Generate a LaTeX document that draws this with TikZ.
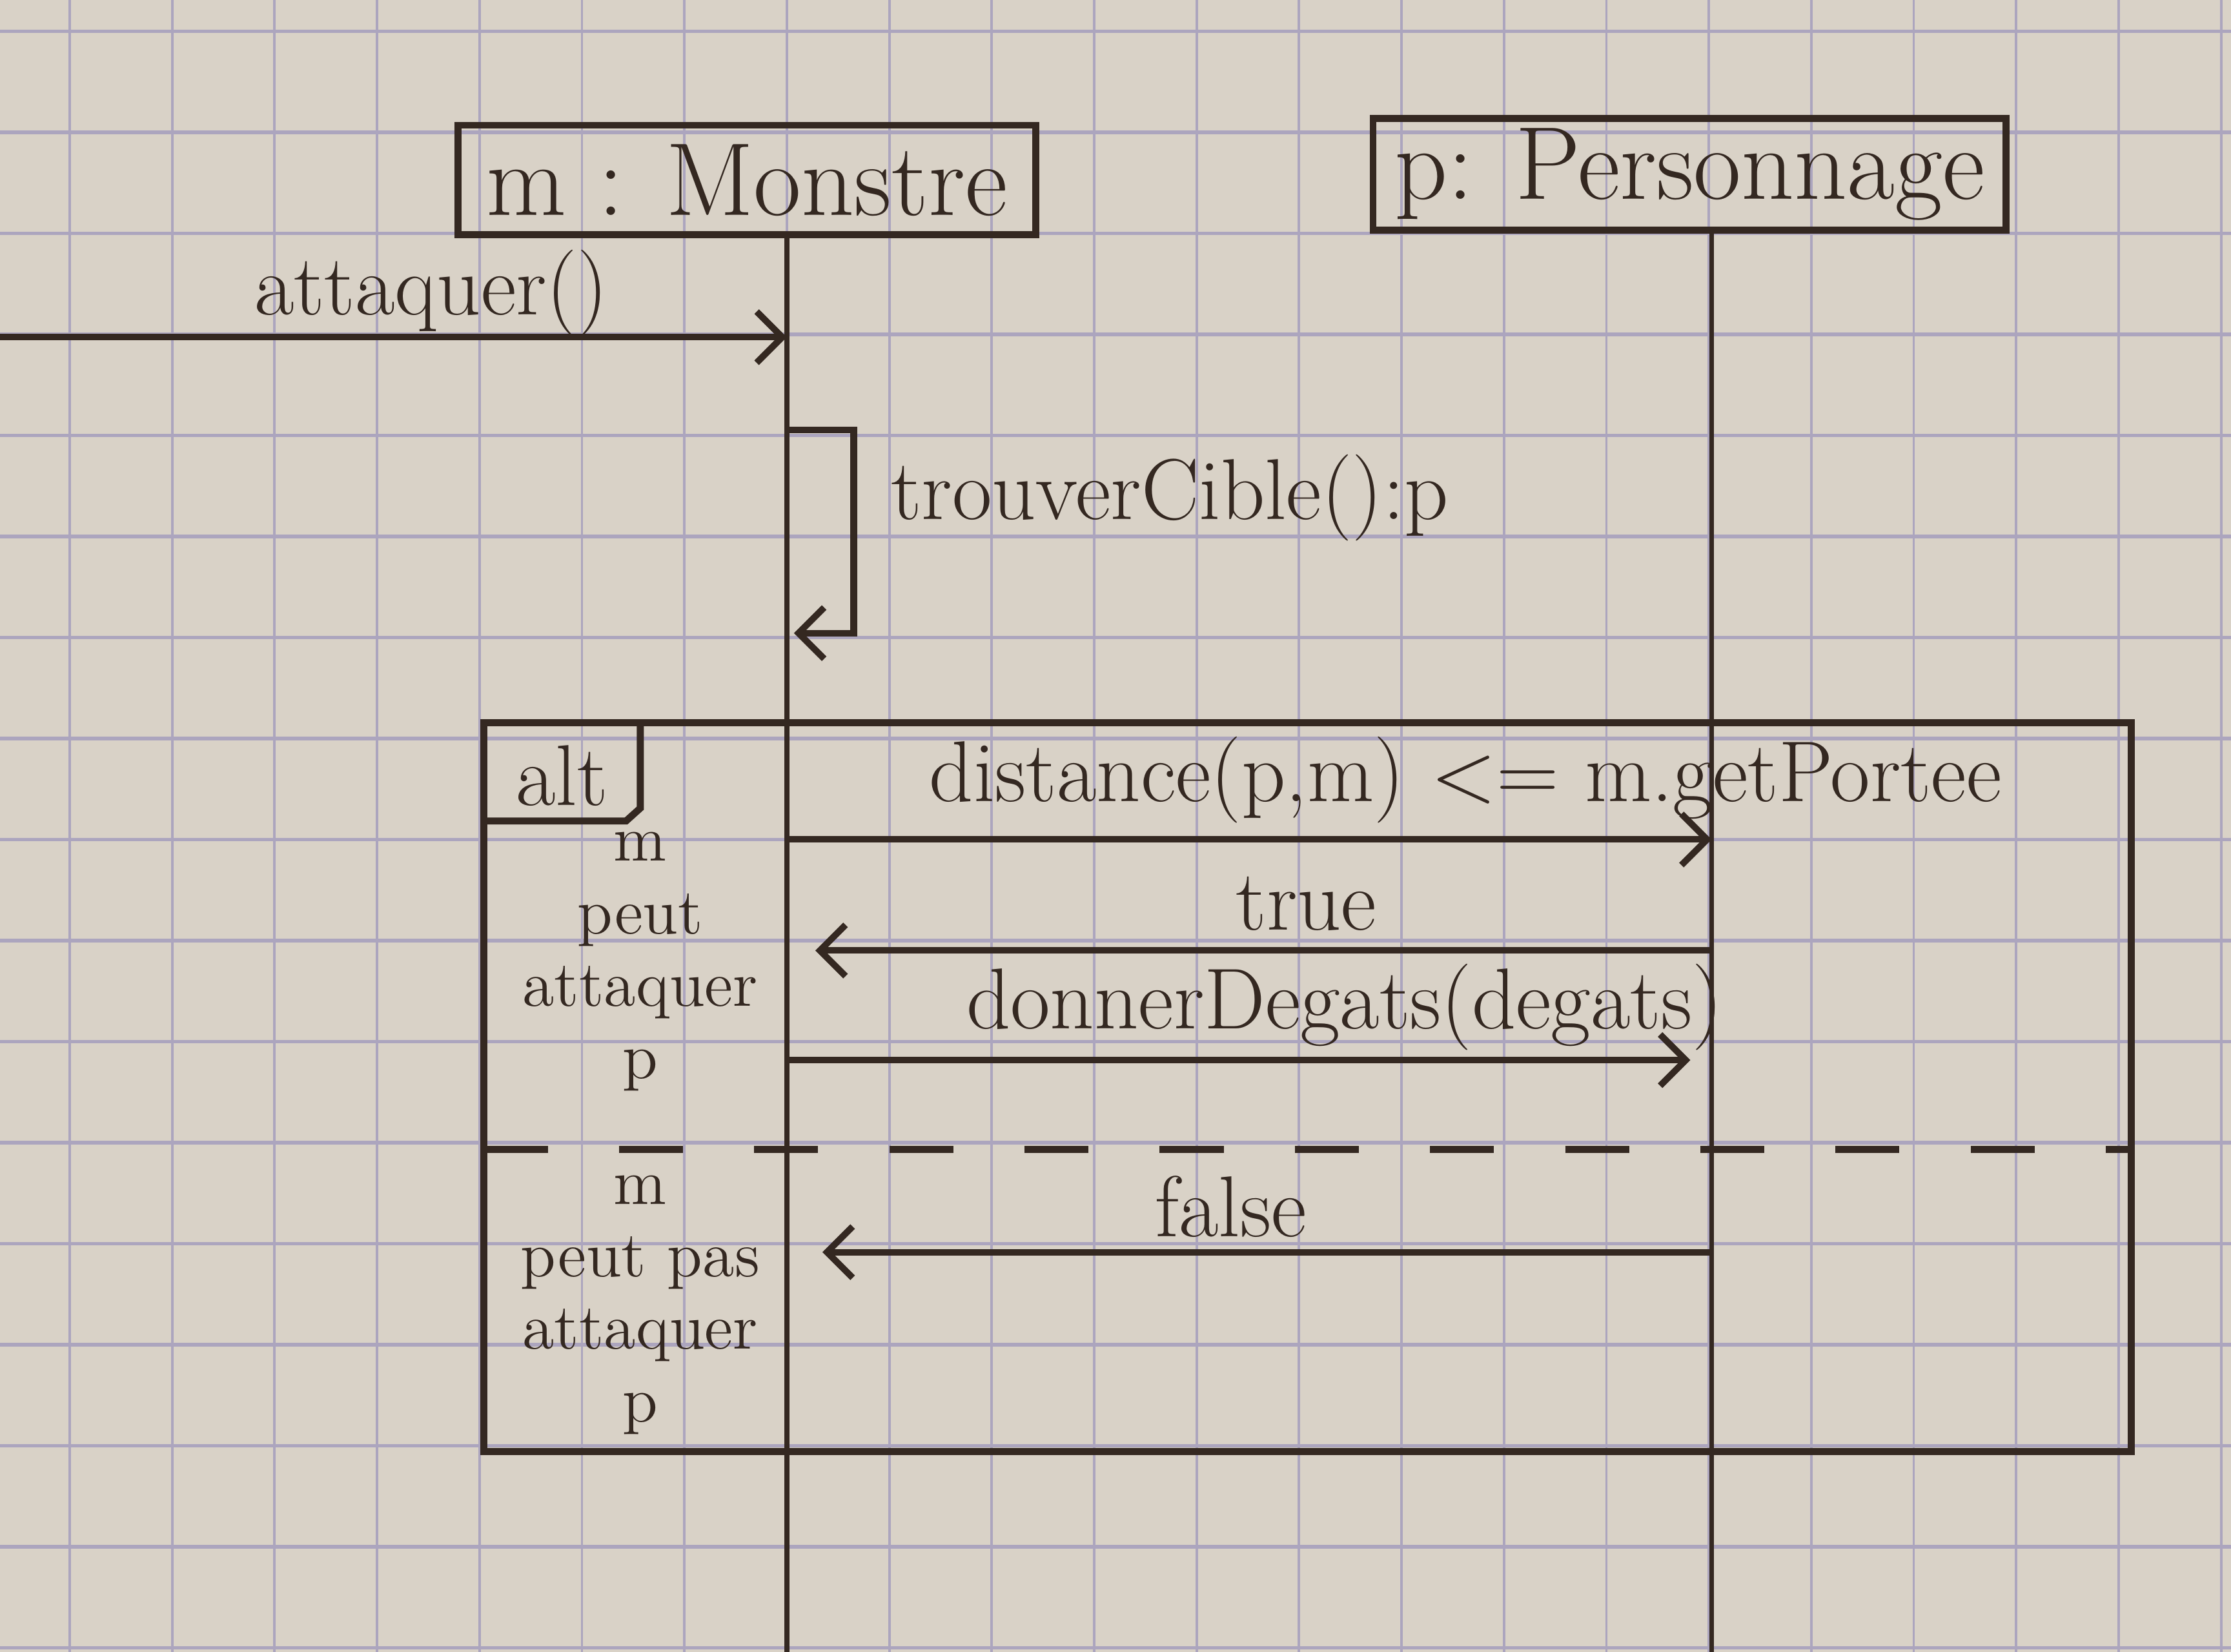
\documentclass[tikz,border=0pt]{standalone}
\usetikzlibrary{arrows.meta}
\definecolor{paper}{RGB}{217,210,199}
\definecolor{gridline}{RGB}{172,165,190}
\definecolor{ink}{RGB}{52,40,33}

\begin{document}
\begin{tikzpicture}[>={Straight Barb[length=1.8mm,width=3.6mm]},
    head/.style={draw=ink, line width=1.4pt, text=ink, font=\huge, minimum height=0.77cm, inner sep=2pt},
    life/.style={draw=ink, line width=1pt},
    msg/.style={draw=ink, ->, line width=1.3pt},
    frame/.style={draw=ink, line width=1.4pt},
    lbl/.style={text=ink, font=\LARGE, inner sep=1pt},
    side/.style={text=ink, font={\fontsize{13}{14.5}\selectfont}, align=center, inner sep=0pt}]
    \useasboundingbox (0,0) rectangle (15.68,-11.61);
    \fill[paper] (0,0) rectangle (15.68,-11.61);
    % squared paper
    \foreach \i in {0,...,21}
        \draw[gridline, line width=0.5pt] ({0.49+0.72*\i},0) -- ++(0,-11.61);
    \foreach \j in {0,...,16}
        \draw[gridline, line width=0.7pt] (0,{-0.22-0.71*\j}) -- ++(15.68,0);

    % objects and lifelines
    \node[head, minimum width=4.06cm] (m) at (5.25,-1.265) {m : Monstre};
    \node[head, minimum width=4.45cm] (p) at (11.875,-1.225) {p: Personnage};
    \coordinate (mend) at (5.53,-11.61);
    \coordinate (pend) at (12.03,-11.61);
    \draw[life] (m.south -| mend) -- (mend);
    \draw[life] (p.south -| pend) -- (pend);

    % attaquer
    \coordinate (start) at (0,-2.37);
    \draw[msg] (start) -- (start -| mend);
    \node[lbl] (attq) at (3.03,-2.06) {attaquer()};

    % self call
    \coordinate (self1) at (5.53,-3.02);
    \coordinate (self2) at (5.58,-4.45);
    \draw[msg] (self1) -- ++(0.47,0) -- ++(0,-1.43) -- (self2);
    \node[lbl, anchor=west] (cible) at (6.22,-3.50) {trouverCible():p};

    % alt frame
    \coordinate (altnw) at (3.40,-5.08);
    \coordinate (altse) at (14.98,-10.20);
    \draw[frame] (altnw) rectangle (altse);
    \node[lbl] (alt) at (3.95,-5.45) {alt};
    \draw[frame] (4.50,-5.08) -- (4.50,-5.68) -- (4.40,-5.77) -- (3.40,-5.77);
    \coordinate (sep) at (0,-8.08);
    \draw[frame, dash pattern=on 0.45cm off 0.5cm] (altnw |- sep) -- (altse |- sep);

    % first operand
    \coordinate (a1) at (5.53,-5.90);
    \draw[msg] (a1) -- (a1 -| pend);
    \node[lbl] (dist) at (10.30,-5.48) {distance(p,m) \textless{}= m.getPortee};
    \coordinate (a2) at (5.53,-6.68);
    \draw[msg, shorten >=0.2cm] (a2 -| pend) -- (a2);
    \node[lbl] (vrai) at (9.18,-6.35) {true};
    \coordinate (a3) at (5.53,-7.45);
    \draw[msg, shorten >=0.15cm] (a3) -- (a3 -| pend);
    \node[lbl] (degats) at (9.45,-7.08) {donnerDegats(degats)};
    \node[side] (peut) at (4.50,-6.76) {m\\peut\\attaquer\\p};

    % second operand
    \coordinate (b1) at (5.53,-8.80);
    \draw[msg, shorten >=0.25cm] (b1 -| pend) -- (b1);
    \node[lbl] (faux) at (8.65,-8.48) {false};
    \node[side] (peutpas) at (4.50,-9.17) {m\\peut pas\\attaquer\\p};
\end{tikzpicture}
\end{document}
